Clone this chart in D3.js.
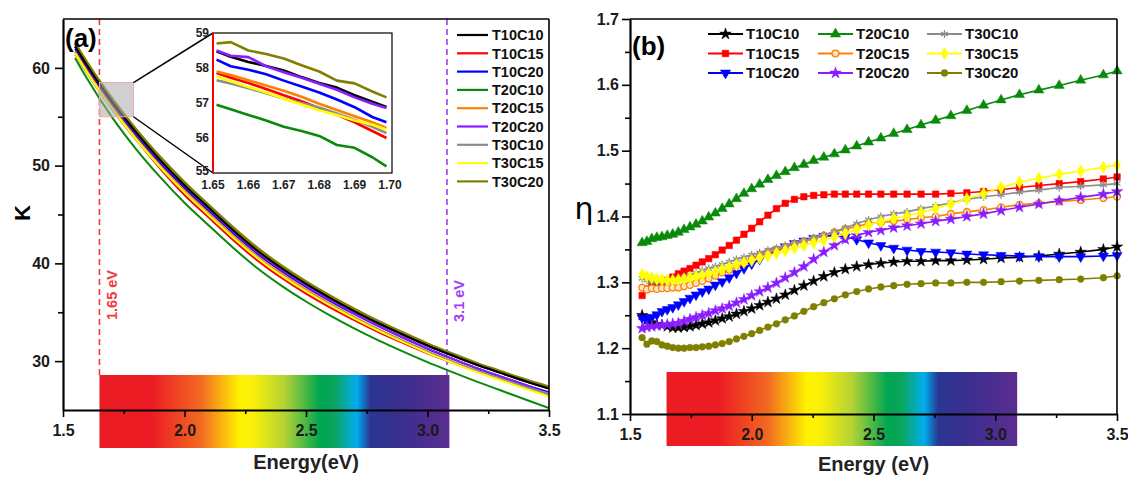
<!DOCTYPE html>
<html>
<head>
<meta charset="utf-8">
<script src="https://cdn.jsdelivr.net/npm/d3@7"></script>
<style>
  html, body { margin: 0; padding: 0; background: #fff; }
  svg { display: block; font-family: "Liberation Sans", Arial, sans-serif; }
  .tick text { font-weight: bold; fill: #1a1a1a; }
</style>
</head>
<body>
<svg id="chart" width="1128" height="477"></svg>
<script>
// ---------- series ----------
const seriesNames = ["T10C10", "T10C15", "T10C20", "T20C10", "T20C15", "T20C20", "T30C10", "T30C15", "T30C20"];
const seriesColors = ["#000000", "#ff0000", "#0000ff", "#0a8a0a", "#ff8000", "#8a1cff", "#8c8c8c", "#ffff00", "#808000"];
const seriesMarkers = ["star", "square", "triangleDown", "triangleUp", "circleOpen", "star", "asterisk", "diamond", "circle"];

// ---------- (a) extinction coefficient K ----------
const kEnergy = [1.55, 1.6, 1.7, 1.8, 1.9, 2.0, 2.1, 2.2, 2.3, 2.4, 2.5, 2.6, 2.7, 2.8, 2.9, 3.0, 3.1, 3.2, 3.3, 3.4, 3.5];
const kT10C10 = [62.2, 60.21, 56.62, 53.42, 50.57, 48.0, 45.68, 43.4, 41.3, 39.5, 37.9, 36.45, 35.1, 33.85, 32.7, 31.6, 30.6, 29.65, 28.8, 27.97, 27.2];
const kT10C15 = [61.65, 59.6, 55.98, 52.7, 49.7, 47.0, 44.68, 42.4, 40.3, 38.5, 36.9, 35.47, 34.17, 32.95, 31.85, 30.8, 29.85, 28.95, 28.13, 27.33, 26.6];
const kT10C20 = [61.95, 59.96, 56.35, 53.13, 50.27, 47.7, 45.38, 43.1, 41.0, 39.2, 37.6, 36.15, 34.8, 33.55, 32.38, 31.27, 30.26, 29.3, 28.43, 27.59, 26.8];
const kT20C10 = [61.0, 58.86, 55.02, 51.72, 48.82, 46.2, 43.88, 41.6, 39.5, 37.7, 36.1, 34.65, 33.32, 32.1, 30.98, 29.9, 28.9, 27.93, 27.02, 26.1, 25.2];
const kT20C15 = [61.65, 59.66, 56.07, 52.86, 50.0, 47.43, 45.11, 42.83, 40.72, 38.92, 37.31, 35.86, 34.5, 33.25, 32.1, 31.0, 30.0, 29.05, 28.2, 27.37, 26.6];
const kT20C20 = [62.2, 60.2, 56.58, 53.36, 50.49, 47.9, 45.56, 43.26, 41.14, 39.32, 37.7, 36.23, 34.86, 33.59, 32.42, 31.3, 30.28, 29.31, 28.44, 27.59, 26.6];
const kT30C10 = [61.4, 59.42, 55.84, 52.65, 49.8, 47.24, 44.93, 42.66, 40.57, 38.78, 37.19, 35.75, 34.41, 33.17, 32.03, 30.94, 29.95, 29.01, 28.17, 27.36, 26.7];
const kT30C15 = [61.5, 59.5, 55.92, 52.7, 49.84, 47.26, 44.93, 42.65, 40.55, 38.75, 37.15, 35.7, 34.35, 33.1, 31.95, 30.85, 29.85, 28.9, 28.05, 27.2, 26.4];
const kT30C20 = [62.5, 60.5, 56.9, 53.7, 50.85, 48.27, 45.94, 43.65, 41.55, 39.73, 38.12, 36.66, 35.3, 34.04, 32.88, 31.77, 30.76, 29.8, 28.95, 28.12, 27.35];
const kSeries = [kT10C10, kT10C15, kT10C20, kT20C10, kT20C15, kT20C20, kT30C10, kT30C15, kT30C20];

// magnified window 1.65 - 1.70 eV
const insetEnergy = [1.651, 1.655, 1.66, 1.665, 1.67, 1.675, 1.68, 1.685, 1.69, 1.695, 1.699];
const insetT10C10 = [58.48, 58.32, 58.17, 58.06, 57.93, 57.74, 57.57, 57.44, 57.22, 57.04, 56.89];
const insetT10C15 = [57.86, 57.72, 57.57, 57.40, 57.22, 57.05, 56.85, 56.66, 56.45, 56.20, 56.00];
const insetT10C20 = [58.24, 58.05, 57.95, 57.82, 57.64, 57.47, 57.30, 57.10, 56.88, 56.60, 56.45];
const insetT20C10 = [56.95, 56.82, 56.66, 56.50, 56.32, 56.20, 56.06, 55.80, 55.72, 55.45, 55.19];
const insetT20C15 = [57.90, 57.80, 57.65, 57.50, 57.35, 57.18, 56.98, 56.80, 56.62, 56.45, 56.29];
const insetT20C20 = [58.50, 58.35, 58.31, 58.05, 57.88, 57.72, 57.55, 57.38, 57.16, 56.98, 56.86];
const insetT30C10 = [57.65, 57.56, 57.42, 57.28, 57.12, 57.00, 56.87, 56.70, 56.52, 56.32, 56.14];
const insetT30C15 = [57.76, 57.62, 57.46, 57.30, 57.12, 56.96, 56.79, 56.66, 56.50, 56.38, 56.24];
const insetT30C20 = [58.70, 58.74, 58.50, 58.40, 58.27, 58.08, 57.90, 57.64, 57.56, 57.33, 57.16];
const insetSeries = [insetT10C10, insetT10C15, insetT10C20, insetT20C10, insetT20C15, insetT20C20, insetT30C10, insetT30C15, insetT30C20];

// ---------- (b) refractive index ratio η, sampled every 10 nm ----------
const wavelengthNm = [800, 790, 780, 770, 760, 750, 740, 730, 720, 710, 700, 690, 680, 670, 660, 650, 640, 630, 620, 610, 600, 590, 580, 570, 560, 550, 540, 530, 520, 510, 500, 490, 480, 470, 460, 450, 440, 430, 420, 410, 400, 390, 380, 370, 360, 354.2];
const etaT10C10 = [1.250, 1.243, 1.239, 1.236, 1.235, 1.233, 1.231, 1.231, 1.232, 1.233, 1.235, 1.237, 1.239, 1.242, 1.245, 1.248, 1.252, 1.256, 1.260, 1.265, 1.270, 1.275, 1.281, 1.288, 1.295, 1.302, 1.309, 1.315, 1.320, 1.324, 1.327, 1.329, 1.331, 1.332, 1.332, 1.333, 1.333, 1.334, 1.335, 1.337, 1.338, 1.340, 1.343, 1.346, 1.350, 1.354];
const etaT10C15 = [1.280, 1.290, 1.296, 1.299, 1.301, 1.303, 1.308, 1.313, 1.317, 1.321, 1.326, 1.331, 1.336, 1.342, 1.349, 1.356, 1.364, 1.373, 1.382, 1.392, 1.402, 1.412, 1.420, 1.426, 1.430, 1.432, 1.433, 1.434, 1.434, 1.434, 1.434, 1.434, 1.434, 1.434, 1.434, 1.434, 1.435, 1.436, 1.438, 1.441, 1.444, 1.447, 1.450, 1.453, 1.457, 1.460];
const etaT10C20 = [1.246, 1.243, 1.247, 1.251, 1.256, 1.259, 1.262, 1.266, 1.271, 1.276, 1.281, 1.286, 1.290, 1.296, 1.301, 1.307, 1.314, 1.321, 1.328, 1.335, 1.342, 1.348, 1.354, 1.359, 1.363, 1.367, 1.370, 1.371, 1.369, 1.365, 1.360, 1.356, 1.352, 1.349, 1.347, 1.346, 1.345, 1.343, 1.342, 1.341, 1.340, 1.339, 1.339, 1.339, 1.340, 1.341];
const etaT20C10 = [1.360, 1.362, 1.366, 1.368, 1.369, 1.371, 1.373, 1.376, 1.380, 1.384, 1.388, 1.393, 1.399, 1.405, 1.412, 1.419, 1.427, 1.435, 1.442, 1.449, 1.456, 1.462, 1.468, 1.474, 1.479, 1.485, 1.490, 1.495, 1.501, 1.507, 1.513, 1.519, 1.526, 1.532, 1.539, 1.546, 1.553, 1.561, 1.569, 1.577, 1.585, 1.592, 1.599, 1.607, 1.615, 1.621];
const etaT20C15 = [1.292, 1.289, 1.291, 1.290, 1.291, 1.291, 1.292, 1.292, 1.294, 1.296, 1.299, 1.302, 1.306, 1.310, 1.315, 1.319, 1.325, 1.330, 1.336, 1.341, 1.346, 1.350, 1.354, 1.358, 1.362, 1.366, 1.371, 1.376, 1.381, 1.385, 1.389, 1.391, 1.393, 1.395, 1.398, 1.400, 1.404, 1.407, 1.410, 1.414, 1.418, 1.420, 1.423, 1.425, 1.428, 1.430];
const etaT20C20 = [1.230, 1.232, 1.233, 1.234, 1.235, 1.236, 1.237, 1.238, 1.241, 1.244, 1.247, 1.250, 1.253, 1.257, 1.260, 1.264, 1.269, 1.274, 1.280, 1.286, 1.292, 1.299, 1.307, 1.315, 1.324, 1.335, 1.346, 1.356, 1.365, 1.371, 1.376, 1.379, 1.383, 1.386, 1.389, 1.393, 1.396, 1.400, 1.404, 1.409, 1.414, 1.419, 1.424, 1.429, 1.434, 1.438];
const etaT30C10 = [1.306, 1.303, 1.301, 1.300, 1.301, 1.302, 1.303, 1.305, 1.308, 1.311, 1.314, 1.318, 1.321, 1.324, 1.327, 1.331, 1.335, 1.338, 1.342, 1.345, 1.349, 1.352, 1.356, 1.360, 1.363, 1.368, 1.372, 1.377, 1.383, 1.389, 1.395, 1.400, 1.404, 1.407, 1.412, 1.416, 1.421, 1.426, 1.430, 1.433, 1.437, 1.440, 1.444, 1.446, 1.448, 1.450];
const etaT30C15 = [1.312, 1.309, 1.307, 1.305, 1.304, 1.303, 1.303, 1.304, 1.305, 1.307, 1.309, 1.311, 1.313, 1.316, 1.320, 1.323, 1.327, 1.330, 1.333, 1.337, 1.340, 1.344, 1.348, 1.352, 1.356, 1.360, 1.364, 1.369, 1.374, 1.380, 1.387, 1.392, 1.397, 1.401, 1.406, 1.412, 1.419, 1.427, 1.435, 1.444, 1.452, 1.458, 1.464, 1.469, 1.475, 1.478];
const etaT30C20 = [1.216, 1.206, 1.211, 1.210, 1.205, 1.203, 1.201, 1.200, 1.200, 1.201, 1.201, 1.202, 1.203, 1.205, 1.207, 1.210, 1.214, 1.218, 1.222, 1.227, 1.232, 1.237, 1.243, 1.249, 1.256, 1.263, 1.269, 1.275, 1.281, 1.286, 1.290, 1.293, 1.295, 1.297, 1.298, 1.299, 1.299, 1.300, 1.300, 1.301, 1.302, 1.303, 1.304, 1.305, 1.307, 1.310];
const etaSeries = [etaT10C10, etaT10C15, etaT10C20, etaT20C10, etaT20C15, etaT20C20, etaT30C10, etaT30C15, etaT30C20];

// ---------- axis ticks ----------
const energyTicks = [1.5, 2.0, 2.5, 3.0, 3.5];
const energyMinorTicks = [1.75, 2.25, 2.75, 3.25];
const kTicks = [30, 40, 50, 60];
const kMinorTicks = [35, 45, 55];
const etaTicks = [1.1, 1.2, 1.3, 1.4, 1.5, 1.6, 1.7];
const etaMinorTicks = [1.15, 1.25, 1.35, 1.45, 1.55, 1.65];
const insetEnergyTicks = [1.65, 1.66, 1.67, 1.68, 1.69, 1.70];
const insetKTicks = [55, 56, 57, 58, 59];

// visible-light band and marked photon energies
const visibleBand = [1.65, 3.09];
const markedEnergies = [{ e: 1.65, label: "1.65 eV", color: "#f23a3a" }, { e: 3.08, label: "3.1 eV", color: "#a23cf5" }];
const zoomWindow = { e0: 1.65, e1: 1.79, k0: 55.0, k1: 58.5 };
const spectrumStops = [
  [0, "#ec1c24"], [0.15, "#ec1c24"], [0.29, "#f26a21"], [0.40, "#fff200"], [0.44, "#f9ef0a"],
  [0.53, "#b3d235"], [0.63, "#00a651"], [0.67, "#0ba55a"], [0.735, "#00aeef"], [0.775, "#2b3591"],
  [0.86, "#3a2f8f"], [1.0, "#5b2d90"]
];

// ---------- drawing ----------
const svg = d3.select("#chart");
const FONT = '"Liberation Sans", Arial, sans-serif';

const defs = svg.append("defs");
const grad = defs.append("linearGradient").attr("id", "spectrum").attr("x1", "0%").attr("x2", "100%");
spectrumStops.forEach(([o, c]) => grad.append("stop").attr("offset", o).attr("stop-color", c));

function markerPath(type, size) {
  switch (type) {
    case "star": return d3.symbol().type(d3.symbolStar).size(size * 0.95)();
    case "square": return d3.symbol().type(d3.symbolSquare).size(size)();
    case "triangleUp": return d3.symbol().type(d3.symbolTriangle).size(size * 1.05)();
    case "triangleDown": return d3.symbol().type(d3.symbolTriangle).size(size * 1.05)();
    case "diamond": return d3.symbol().type(d3.symbolDiamond).size(size * 1.05)();
    case "asterisk": {
      const r = Math.sqrt(size) * 0.6, a = r * 0.866, b = r * 0.5;
      return `M0,${-r}L0,${r}M${-a},${-b}L${a},${b}M${-a},${b}L${a},${-b}`;
    }
    default: return d3.symbol().type(d3.symbolCircle).size(size * 0.85)();
  }
}
function drawMarker(g, type, color, x, y, size) {
  const p = g.append("path").attr("d", markerPath(type, size))
    .attr("transform", `translate(${x},${y})${type === "triangleDown" ? " rotate(180)" : ""}`);
  if (type === "asterisk") p.attr("fill", "none").attr("stroke", color).attr("stroke-width", 1.3);
  else if (type === "circleOpen") p.attr("fill", "#fde3c8").attr("stroke", color).attr("stroke-width", 1.3);
  else p.attr("fill", color).attr("stroke", color).attr("stroke-width", 0.5);
}

function styleAxis(g, width) {
  g.select(".domain").attr("stroke", "#000").attr("stroke-width", width);
  g.selectAll(".tick line").attr("stroke", "#000").attr("stroke-width", 1.6);
  g.selectAll(".tick text").style("font-family", FONT).style("font-size", "16px").style("font-weight", "bold");
}

function drawFrame(x, y, xTicks, xMinor, yTicks, yMinor, yFormat, ySize, yPad) {
  const [x0, x1] = x.range(), [y0, y1] = y.range();
  svg.append("line").attr("x1", x0).attr("x2", x1).attr("y1", y1).attr("y2", y1).attr("stroke", "#000").attr("stroke-width", 1.6);
  svg.append("line").attr("x1", x1).attr("x2", x1).attr("y1", y1).attr("y2", y0).attr("stroke", "#000").attr("stroke-width", 1.6);
  const gx = svg.append("g").attr("transform", `translate(0,${y0})`)
    .call(d3.axisBottom(x).tickValues(xTicks).tickFormat(d3.format(".1f")).tickSizeInner(7).tickSizeOuter(0).tickPadding(8));
  styleAxis(gx, 2.2);
  const gxm = svg.append("g").attr("transform", `translate(0,${y0})`)
    .call(d3.axisBottom(x).tickValues(xMinor).tickFormat("").tickSizeInner(4).tickSizeOuter(0));
  gxm.select(".domain").remove();
  gxm.selectAll(".tick line").attr("stroke", "#000").attr("stroke-width", 1.6);
  const gy = svg.append("g").attr("transform", `translate(${x0},0)`)
    .call(d3.axisLeft(y).tickValues(yTicks).tickFormat(yFormat).tickSizeInner(ySize).tickSizeOuter(0).tickPadding(yPad));
  styleAxis(gy, 2.2);
  const gym = svg.append("g").attr("transform", `translate(${x0},0)`)
    .call(d3.axisLeft(y).tickValues(yMinor).tickFormat("").tickSizeInner(5).tickSizeOuter(0));
  gym.select(".domain").remove();
  gym.selectAll(".tick line").attr("stroke", "#000").attr("stroke-width", 1.6);
}

// ===== panel (a) =====
const xK = d3.scaleLinear().domain([1.5, 3.5]).range([63, 549]);
const yK = d3.scaleLinear().domain([25, 65]).range([410, 19]);

defs.append("clipPath").attr("id", "clipA").append("rect")
  .attr("x", 63).attr("y", 19).attr("width", 486).attr("height", 391);

const pa = svg.append("g").attr("clip-path", "url(#clipA)");
// dashed markers
markedEnergies.forEach(m => {
  pa.append("line").attr("x1", xK(m.e)).attr("x2", xK(m.e)).attr("y1", yK(65)).attr("y2", 376)
    .attr("stroke", m.color).attr("stroke-width", 1.6).attr("stroke-dasharray", "6,4");
});
const kLine = d3.line().x((d, i) => xK(kEnergy[i])).y(d => yK(d)).curve(d3.curveMonotoneX);
kSeries.forEach((s, i) => {
  pa.append("path").attr("d", kLine(s)).attr("fill", "none")
    .attr("stroke", seriesColors[i]).attr("stroke-width", i === 8 ? 3 : 2);
});
// bring black to the front so the olive shows as an edge
pa.append("path").attr("d", kLine(kT10C10)).attr("fill", "none").attr("stroke", "#000").attr("stroke-width", 2);

// zoom window
pa.append("rect").attr("x", xK(zoomWindow.e0)).attr("y", yK(zoomWindow.k1))
  .attr("width", xK(zoomWindow.e1) - xK(zoomWindow.e0)).attr("height", yK(zoomWindow.k0) - yK(zoomWindow.k1))
  .attr("fill", "rgba(170,170,170,0.55)").attr("stroke", "#f2a6a6").attr("stroke-width", 1);

// spectrum band
svg.append("rect").attr("x", xK(visibleBand[0])).attr("y", 375)
  .attr("width", xK(visibleBand[1]) - xK(visibleBand[0])).attr("height", 73).attr("fill", "url(#spectrum)");

drawFrame(xK, yK, energyTicks, energyMinorTicks, kTicks, kMinorTicks, d3.format("d"), 8, 5);

// marker labels
markedEnergies.forEach((m, i) => {
  const cx = xK(m.e) + 12, cy = i === 0 ? 295 : 301;
  svg.append("text").attr("transform", `translate(${cx},${cy}) rotate(-90)`)
    .attr("text-anchor", "middle").attr("dy", "0.35em")
    .style("font-family", FONT).style("font-size", "14.5px").style("font-weight", "bold")
    .attr("fill", m.color).text(m.label);
});

// inset
const xI = d3.scaleLinear().domain([1.65, 1.70]).range([213, 390]);
const yI = d3.scaleLinear().domain([55, 59]).range([173, 33]);
svg.append("line").attr("x1", xK(zoomWindow.e1)).attr("y1", yK(zoomWindow.k1)).attr("x2", 213).attr("y2", 33)
  .attr("stroke", "#000").attr("stroke-width", 1.5);
svg.append("line").attr("x1", xK(zoomWindow.e1)).attr("y1", yK(zoomWindow.k0)).attr("x2", 213).attr("y2", 173)
  .attr("stroke", "#000").attr("stroke-width", 1.5);
svg.append("rect").attr("x", 213).attr("y", 33).attr("width", 179).attr("height", 140)
  .attr("fill", "#fff").attr("stroke", "#000").attr("stroke-width", 1.2);
const iLine = d3.line().x((d, i) => xI(insetEnergy[i])).y(d => yI(d));
insetSeries.forEach((s, i) => {
  svg.append("path").attr("d", iLine(s)).attr("fill", "none")
    .attr("stroke", seriesColors[i]).attr("stroke-width", 2.6).attr("stroke-linejoin", "round");
});
svg.append("line").attr("x1", 213).attr("x2", 213).attr("y1", 33).attr("y2", 173)
  .attr("stroke", "#ff0000").attr("stroke-width", 2);
insetKTicks.forEach(v => {
  svg.append("text").attr("x", 209).attr("y", yI(v) - (v === 55 ? 2 : 0)).attr("dy", "0.35em").attr("text-anchor", "end")
    .style("font-family", FONT).style("font-size", "12px").style("font-weight", "bold").attr("fill", "#222")
    .text(v);
});
insetEnergyTicks.forEach(v => {
  svg.append("text").attr("x", xI(v)).attr("y", 189).attr("text-anchor", "middle")
    .style("font-family", FONT).style("font-size", "12px").style("font-weight", "bold").attr("fill", "#222")
    .text(d3.format(".2f")(v));
});

// legend (a)
seriesNames.forEach((n, i) => {
  const cy = 35 + i * 18.3;
  svg.append("line").attr("x1", 457).attr("x2", 488).attr("y1", cy).attr("y2", cy)
    .attr("stroke", seriesColors[i]).attr("stroke-width", 2.2);
  svg.append("text").attr("x", 492).attr("y", cy).attr("dy", "0.36em")
    .style("font-family", FONT).style("font-size", "14.5px").style("font-weight", "bold").attr("fill", "#111")
    .text(n);
});

// titles (a)
svg.append("text").attr("x", 65).attr("y", 47)
  .style("font-family", FONT).style("font-size", "26px").style("font-weight", "bold").text("(a)");
svg.append("text").attr("transform", "translate(22,213) rotate(-90)").attr("text-anchor", "middle").attr("dy", "0.35em")
  .style("font-family", FONT).style("font-size", "22px").style("font-weight", "bold").text("K");
svg.append("text").attr("x", xK(2.5)).attr("y", 469).attr("text-anchor", "middle")
  .style("font-family", FONT).style("font-size", "20px").style("font-weight", "bold").attr("fill", "#222").text("Energy(eV)");

// ===== panel (b) =====
const xE = d3.scaleLinear().domain([1.5, 3.5]).range([630, 1117]);
const yE = d3.scaleLinear().domain([1.1, 1.7]).range([414, 19]);
const etaEnergy = wavelengthNm.map(l => 1239.84 / l);

svg.append("rect").attr("x", xE(visibleBand[0])).attr("y", 372)
  .attr("width", xE(visibleBand[1]) - xE(visibleBand[0])).attr("height", 74).attr("fill", "url(#spectrum)");

const eLine = d3.line().x((d, i) => xE(etaEnergy[i])).y(d => yE(d));
etaSeries.forEach((s, i) => {
  const g = svg.append("g");
  g.append("path").attr("d", eLine(s)).attr("fill", "none")
    .attr("stroke", seriesColors[i]).attr("stroke-width", 1.6);
  s.forEach((v, j) => drawMarker(g, seriesMarkers[i], seriesColors[i], xE(etaEnergy[j]), yE(v), 42));
});

drawFrame(xE, yE, energyTicks, energyMinorTicks, etaTicks, etaMinorTicks, d3.format(".1f"), 8, 3);

// legend (b)
const legCols = [708, 818, 927], legRows = [34, 53.5, 73];
seriesNames.forEach((n, i) => {
  const x0 = legCols[Math.floor(i / 3)], cy = legRows[i % 3];
  const g = svg.append("g");
  g.append("line").attr("x1", x0).attr("x2", x0 + 35).attr("y1", cy).attr("y2", cy)
    .attr("stroke", seriesColors[i]).attr("stroke-width", 1.8);
  drawMarker(g, seriesMarkers[i], seriesColors[i], x0 + 17.5, cy, 44);
  g.append("text").attr("x", x0 + 38).attr("y", cy).attr("dy", "0.36em")
    .style("font-family", FONT).style("font-size", "15px").style("font-weight", "bold").attr("fill", "#111")
    .text(n);
});

svg.append("text").attr("x", 632).attr("y", 55)
  .style("font-family", FONT).style("font-size", "26px").style("font-weight", "bold").text("(b)");
svg.append("text").attr("x", 584).attr("y", 208).attr("text-anchor", "middle").attr("dy", "0.35em")
  .style("font-family", "DejaVu Sans, sans-serif").style("font-size", "30px").text("η");
svg.append("text").attr("x", xE(2.5)).attr("y", 471).attr("text-anchor", "middle")
  .style("font-family", FONT).style("font-size", "20px").style("font-weight", "bold").attr("fill", "#222").text("Energy (eV)");
</script>
</body>
</html>
